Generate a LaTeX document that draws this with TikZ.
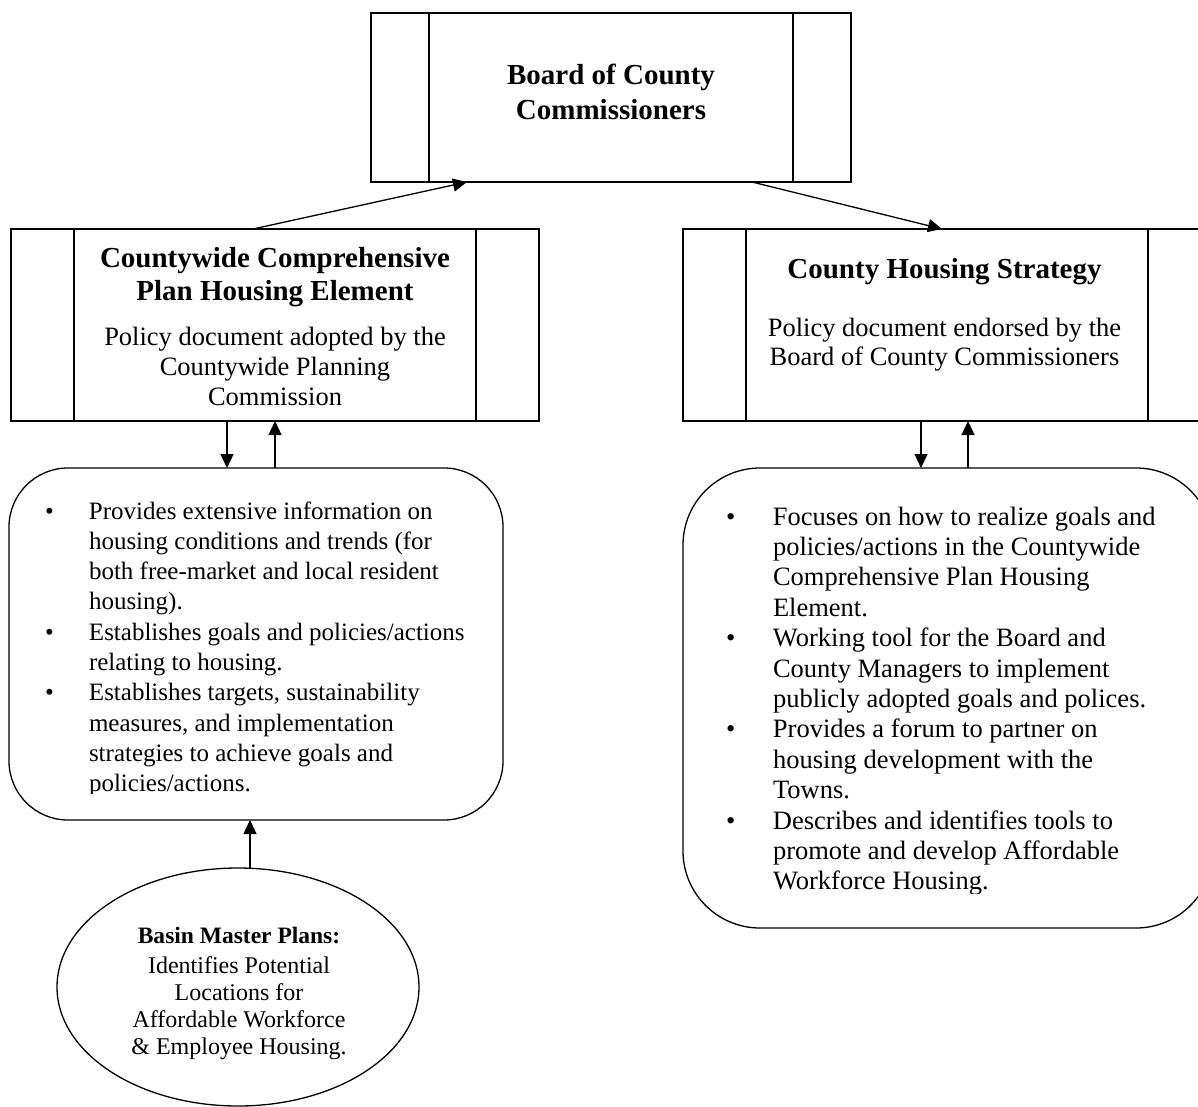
\documentclass[tikz,border=0pt]{standalone}
\usepackage{fontspec}
\setmainfont{Liberation Serif}
\usetikzlibrary{arrows.meta,shapes.geometric}
\newcommand\titlefont{\fontsize{29}{33.5}\selectfont\bfseries}
\newcommand\descfont{\fontsize{26.5}{30}\selectfont}
\newcommand\lbulfont{\fontsize{25}{30.3}\selectfont}
\newcommand\rbulfont{\fontsize{26.5}{30.4}\selectfont}
\begin{document}
\begin{tikzpicture}[x=1pt,y=-1pt,line width=1.3pt,
  box/.style={draw,rectangle,inner sep=0pt,outer sep=0pt},
  rbox/.style={draw,rectangle,inner sep=0pt,outer sep=0pt},
  ell/.style={draw,ellipse,inner sep=0pt,outer sep=0pt},
  txt/.style={inner sep=0pt,outer sep=0pt},
  arr/.style={-{Triangle[length=14pt,width=13pt]}}]
\clip (0,0) rectangle (1198,1107);
\fill[white] (0,0) rectangle (1198,1107);

% boxes
\node[box,minimum width=480pt,minimum height=169pt] (board) at (611,97.5) {};
\draw ([xshift=58pt]board.north west) -- ([xshift=58pt]board.south west);
\draw ([xshift=-58pt]board.north east) -- ([xshift=-58pt]board.south east);

\node[box,minimum width=528pt,minimum height=192pt] (left) at (275,325) {};
\draw ([xshift=63pt]left.north west) -- ([xshift=63pt]left.south west);
\draw ([xshift=-63pt]left.north east) -- ([xshift=-63pt]left.south east);

\node[box,minimum width=528pt,minimum height=192pt] (right) at (947,325) {};
\draw ([xshift=63pt]right.north west) -- ([xshift=63pt]right.south west);
\draw ([xshift=-63pt]right.north east) -- ([xshift=-63pt]right.south east);

\node[rbox,rounded corners=59pt,minimum width=494pt,minimum height=352pt] (lbul) at (256,644) {};
\node[rbox,rounded corners=77pt,minimum width=530pt,minimum height=460pt] (rbul) at (948,698) {};

\node[ell,minimum width=362pt,minimum height=238pt] (basin) at (238,987) {};

% texts
\node[txt,anchor=base,font=\fontsize{29}{35}\selectfont\bfseries] (boardtxt) at (611,85)
  {\begin{tabular}[t]{@{}c@{}}Board of County\\Commissioners\end{tabular}};
\node[txt,anchor=base,font=\titlefont] (lefttitle) at (275,267)
  {\begin{tabular}[t]{@{}c@{}}Countywide Comprehensive\\Plan Housing Element\end{tabular}};
\node[txt,anchor=base,font=\descfont] (leftdesc) at (275,345)
  {\begin{tabular}[t]{@{}c@{}}Policy document adopted by the\\Countywide Planning\\Commission\end{tabular}};
\node[txt,anchor=base,font=\titlefont] (righttitle) at (944.5,278)
  {County Housing Strategy};
\node[txt,anchor=base,font=\fontsize{26.5}{29.5}\selectfont] (rightdesc) at (944.5,336)
  {\begin{tabular}[t]{@{}c@{}}Policy document endorsed by the\\Board of County Commissioners\end{tabular}};

\begin{scope}
\clip (0,0) rectangle (1198,793);
\node[txt,anchor=base west,font=\lbulfont] (lbultxt) at (45,519)
  {\begin{tabular}[t]{@{}p{44pt}@{}l@{}}
  • & Provides extensive information on\\
    & housing conditions and trends (for\\
    & both free-market and local resident\\
    & housing).\\
  • & Establishes goals and policies/actions\\
    & relating to housing.\\
  • & Establishes targets, sustainability\\
    & measures, and implementation\\
    & strategies to achieve goals and\\
    & policies/actions.
  \end{tabular}};
\end{scope}

\begin{scope}
\clip (0,0) rectangle (1198,893);
\node[txt,anchor=base west,font=\rbulfont] (rbultxt) at (726,525)
  {\begin{tabular}[t]{@{}p{47pt}@{}l@{}}
  • & Focuses on how to realize goals and\\
    & policies/actions in the Countywide\\
    & Comprehensive Plan Housing\\
    & Element.\\
  • & Working tool for the Board and\\
    & County Managers to implement\\
    & publicly adopted goals and polices.\\
  • & Provides a forum to partner on\\
    & housing development with the\\
    & Towns.\\
  • & Describes and identifies tools to\\
    & promote and develop Affordable\\
    & Workforce Housing.
  \end{tabular}};
\end{scope}

\node[txt,anchor=base,font=\fontsize{23.5}{27}\selectfont\bfseries] (basinhead) at (239,943)
  {Basin Master Plans:};
\node[txt,anchor=base,font=\fontsize{24}{27.3}\selectfont] (basintxt) at (239,973)
  {\begin{tabular}[t]{@{}c@{}}Identifies Potential\\Locations for\\Affordable Workforce\\\& Employee Housing.\end{tabular}};

% connectors
\draw[arr] ([xshift=-22pt]left.north) -- ([xshift=-144pt]board.south);
\draw[arr] ([xshift=141pt]board.south) -- ([xshift=-5pt]right.north);
\draw[arr] ([xshift=-48pt]left.south) -- ([xshift=-48pt]left.south |- lbul.north);
\draw[arr] (left.south |- lbul.north) -- (left.south);
\draw[arr] ([xshift=-26pt]right.south) -- ([xshift=-26pt]right.south |- rbul.north);
\draw[arr] ([xshift=21pt]right.south |- rbul.north) -- ([xshift=21pt]right.south);
\draw[arr] ([xshift=12pt]basin.north) -- ([xshift=12pt]basin.north |- lbul.south);
\end{tikzpicture}
\end{document}
